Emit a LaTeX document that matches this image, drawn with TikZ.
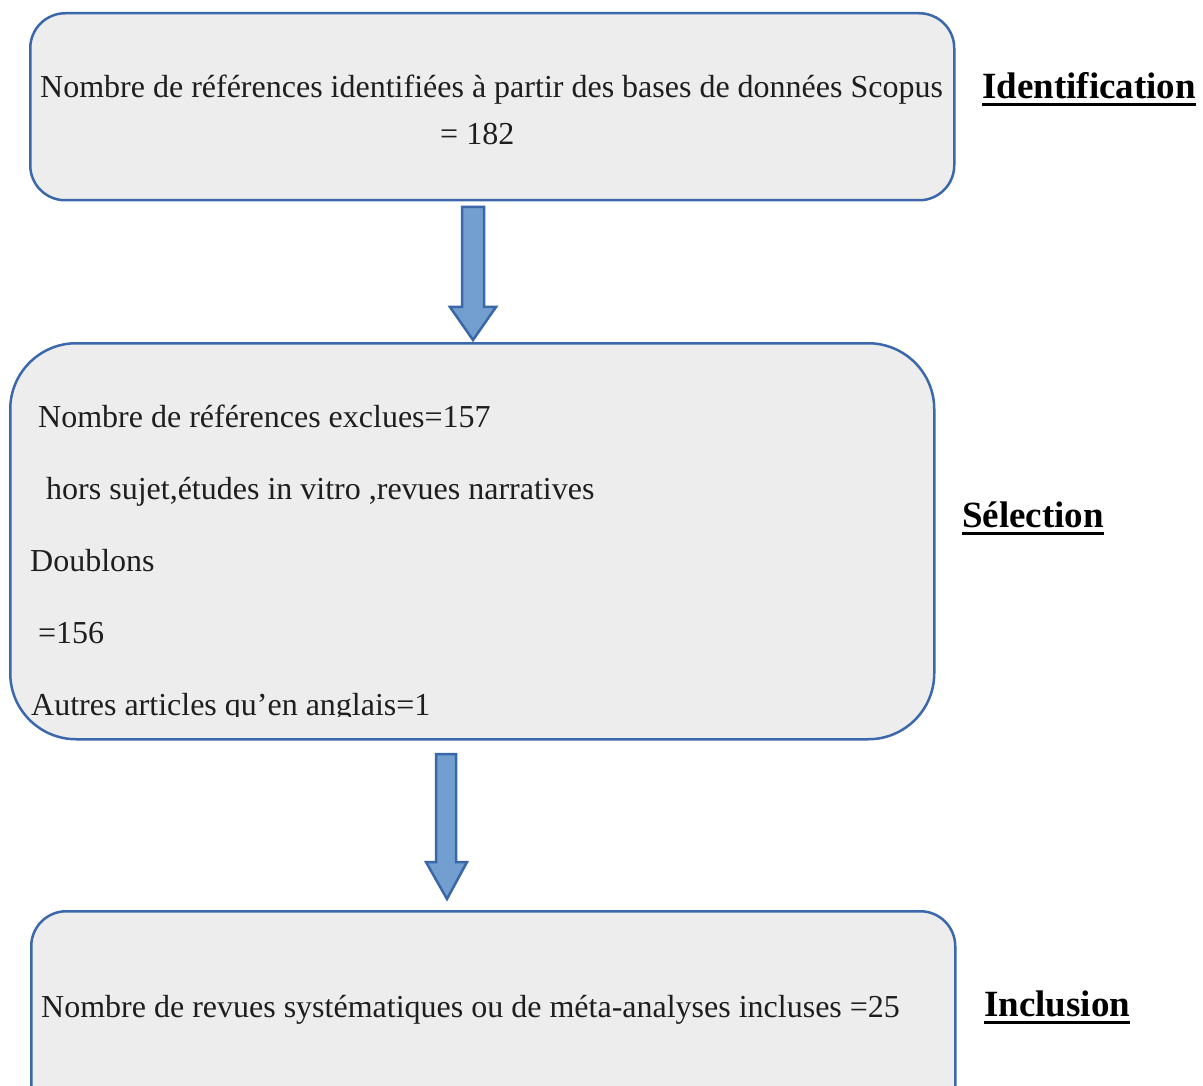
\documentclass[tikz,border=0pt]{standalone}
\usepackage{fontspec}
\setmainfont{Liberation Serif}
\definecolor{boxfill}{HTML}{EDEDED}
\definecolor{boxline}{HTML}{3B68AB}
\definecolor{arrfill}{HTML}{729FCF}
\definecolor{arrline}{HTML}{3A67A8}
\definecolor{txtdark}{HTML}{1E1E1E}
\begin{document}
\begin{tikzpicture}[x=1pt,y=-1pt,
  box/.style={draw=boxline,fill=boxfill,line width=2.5pt,anchor=north west,inner sep=0pt},
  body/.style={anchor=base west,inner sep=0pt,text=txtdark,font=\fontsize{32}{38}\selectfont},
  lab/.style={anchor=base west,inner sep=0pt,text=black,font=\fontsize{37}{44}\selectfont\bfseries},
  bigarrow/.style={draw=arrline,fill=arrfill,line width=2.5pt,line join=miter}]
\useasboundingbox (0,0) rectangle (1203,1086);
\clip (0,0) rectangle (1203,1086);
% boxes
\node[box,rounded corners=35pt,minimum width=924pt,minimum height=187pt] (b1) at (29,12) {};
\node[box,rounded corners=66pt,minimum width=924pt,minimum height=396pt] (b2) at (9,342) {};
\node[box,rounded corners=35pt,minimum width=924pt,minimum height=220pt] (b3) at (30,910) {};
% arrows
\draw[bigarrow] (462,207) -- (484,207) -- (484,307) -- (496,307) -- (473,340) -- (450,307) -- (462,307) -- cycle;
\draw[bigarrow] (436,754) -- (456,754) -- (456,862) -- (467,862) -- (447,899) -- (426,862) -- (436,862) -- cycle;
% texts box 1
\node[body] (t1a) at (40,98) {Nombre de références identifiées à partir des bases de données Scopus};
\node[body] (t1b) at (440,145) {= 182};
% texts box 2
\node[body] (t2a) at (38,427) {Nombre de références exclues=157};
\node[body] (t2b) at (46,499) {hors sujet,études in vitro ,revues narratives};
\node[body] (t2c) at (30,571) {Doublons};
\node[body] (t2d) at (38,643) {=156};
\begin{scope}
\clip (0,600) rectangle (900,716);
\node[body] (t2e) at (31,715) {Autres articles qu’en anglais=1};
\end{scope}
% text box 3
\node[body] (t3) at (41,1017) {Nombre de revues systématiques ou de méta-analyses incluses =25};
% labels
\node[lab] (l1) at (982,99) {Identification};
\node[lab] (l2) at (962,527) {Sélection};
\node[lab] (l3) at (984,1016) {Inclusion};
\foreach \n in {l1,l2,l3}
  \draw[line width=3pt] ([yshift=-6pt]\n.base west) -- ([yshift=-6pt]\n.base east);
\end{tikzpicture}
\end{document}
